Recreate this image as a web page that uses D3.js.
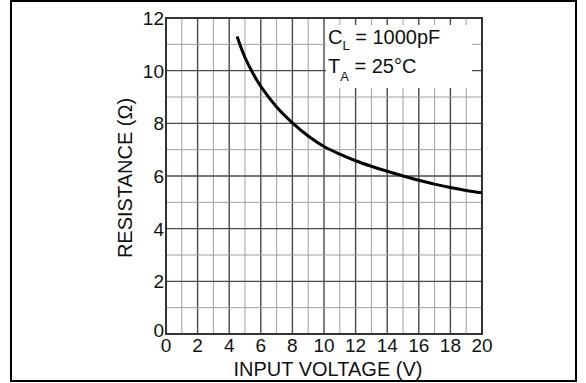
<!DOCTYPE html>
<html>
<head>
<meta charset="utf-8">
<title>Resistance vs Input Voltage</title>
<script src="https://d3js.org/d3.v7.min.js"></script>
<style>
    body { margin: 0; background: #fff; }
    svg text { font-family: "Liberation Sans", Arial, Helvetica, sans-serif; fill: #111; }
</style>
</head>
<body>
<svg width="586" height="383"></svg>
<script>
    // curve
    var voltage    = [4.5, 5, 5.5, 6, 7, 8, 9, 10, 11, 12, 13, 14, 15, 16, 17, 18, 19, 20];
    var resistance = [11.3, 10.5, 9.9, 9.4, 8.62, 8.02, 7.52, 7.12, 6.83, 6.58, 6.37, 6.18, 6.0, 5.84, 5.69, 5.56, 5.45, 5.36];

    var xTicks = [0, 2, 4, 6, 8, 10, 12, 14, 16, 18, 20];
    var yTicks = [0, 2, 4, 6, 8, 10, 12];
    var xGrid = d3.range(1, 20);
    var yGrid = d3.range(1, 12);

    var svg = d3.select("svg");

    // outer frame
    svg.append("rect")
        .attr("x", 11).attr("y", 1)
        .attr("width", 565).attr("height", 380)
        .attr("fill", "none")
        .attr("stroke", "#000")
        .attr("stroke-width", 2);

    var pLeft = 166, pRight = 482, pTop = 18, pBottom = 334;

    var x = d3.scaleLinear().domain([0, 20]).range([pLeft, pRight]);
    var y = d3.scaleLinear().domain([0, 12]).range([pBottom, pTop]);

    var grid = svg.append("g");

    grid.selectAll("line.v")
        .data(xGrid)
        .enter().append("line")
        .attr("x1", function (d) { return x(d); })
        .attr("x2", function (d) { return x(d); })
        .attr("y1", pTop).attr("y2", pBottom)
        .attr("stroke", function (d) { return d % 2 ? "#a0a0a0" : "#4a4a4a"; })
        .attr("stroke-width", function (d) { return d % 2 ? 1 : 1.4; });

    grid.selectAll("line.h")
        .data(yGrid)
        .enter().append("line")
        .attr("x1", pLeft).attr("x2", pRight)
        .attr("y1", function (d) { return y(d); })
        .attr("y2", function (d) { return y(d); })
        .attr("stroke", function (d) { return d % 2 ? "#a0a0a0" : "#4a4a4a"; })
        .attr("stroke-width", function (d) { return d % 2 ? 1 : 1.4; });

    // white box behind the conditions
    svg.append("rect")
        .attr("x", 326).attr("y", 25)
        .attr("width", 146).attr("height", 63)
        .attr("fill", "#fff");

    // plot border
    svg.append("rect")
        .attr("x", pLeft).attr("y", pTop)
        .attr("width", pRight - pLeft).attr("height", pBottom - pTop)
        .attr("fill", "none")
        .attr("stroke", "#333")
        .attr("stroke-width", 2);

    var line = d3.line()
        .x(function (d) { return x(d[0]); })
        .y(function (d) { return y(d[1]); })
        .curve(d3.curveCatmullRom);

    svg.append("path")
        .datum(d3.zip(voltage, resistance))
        .attr("d", line)
        .attr("fill", "none")
        .attr("stroke", "#000")
        .attr("stroke-width", 3);

    // tick labels
    svg.selectAll("text.xt")
        .data(xTicks)
        .enter().append("text")
        .attr("x", function (d) { return x(d); })
        .attr("y", 352)
        .attr("text-anchor", "middle")
        .style("font-size", "19px")
        .text(function (d) { return d; });

    svg.selectAll("text.yt")
        .data(yTicks)
        .enter().append("text")
        .attr("x", 164)
        .attr("y", function (d) { return d === 0 ? y(d) + 3 : y(d) + 7; })
        .attr("text-anchor", "end")
        .style("font-size", "19px")
        .text(function (d) { return d; });

    // axis titles
    svg.append("text")
        .attr("x", 328).attr("y", 376)
        .attr("text-anchor", "middle")
        .style("font-size", "20px")
        .text("INPUT VOLTAGE (V)");

    svg.append("text")
        .attr("transform", "translate(132,178) rotate(-90)")
        .attr("text-anchor", "middle")
        .style("font-size", "20px")
        .text("RESISTANCE (\u03A9)");

    // conditions
    var c1 = svg.append("text").attr("x", 328).attr("y", 44).style("font-size", "20px");
    c1.append("tspan").text("C");
    c1.append("tspan").attr("dy", 6).style("font-size", "13px").text("L");
    c1.append("tspan").attr("dy", -6).text(" = 1000pF");

    var c2 = svg.append("text").attr("x", 328).attr("y", 73).style("font-size", "20px");
    c2.append("tspan").text("T");
    c2.append("tspan").attr("dy", 8).style("font-size", "13px").text("A");
    c2.append("tspan").attr("dy", -8).text(" = 25\u00B0C");
</script>
</body>
</html>
